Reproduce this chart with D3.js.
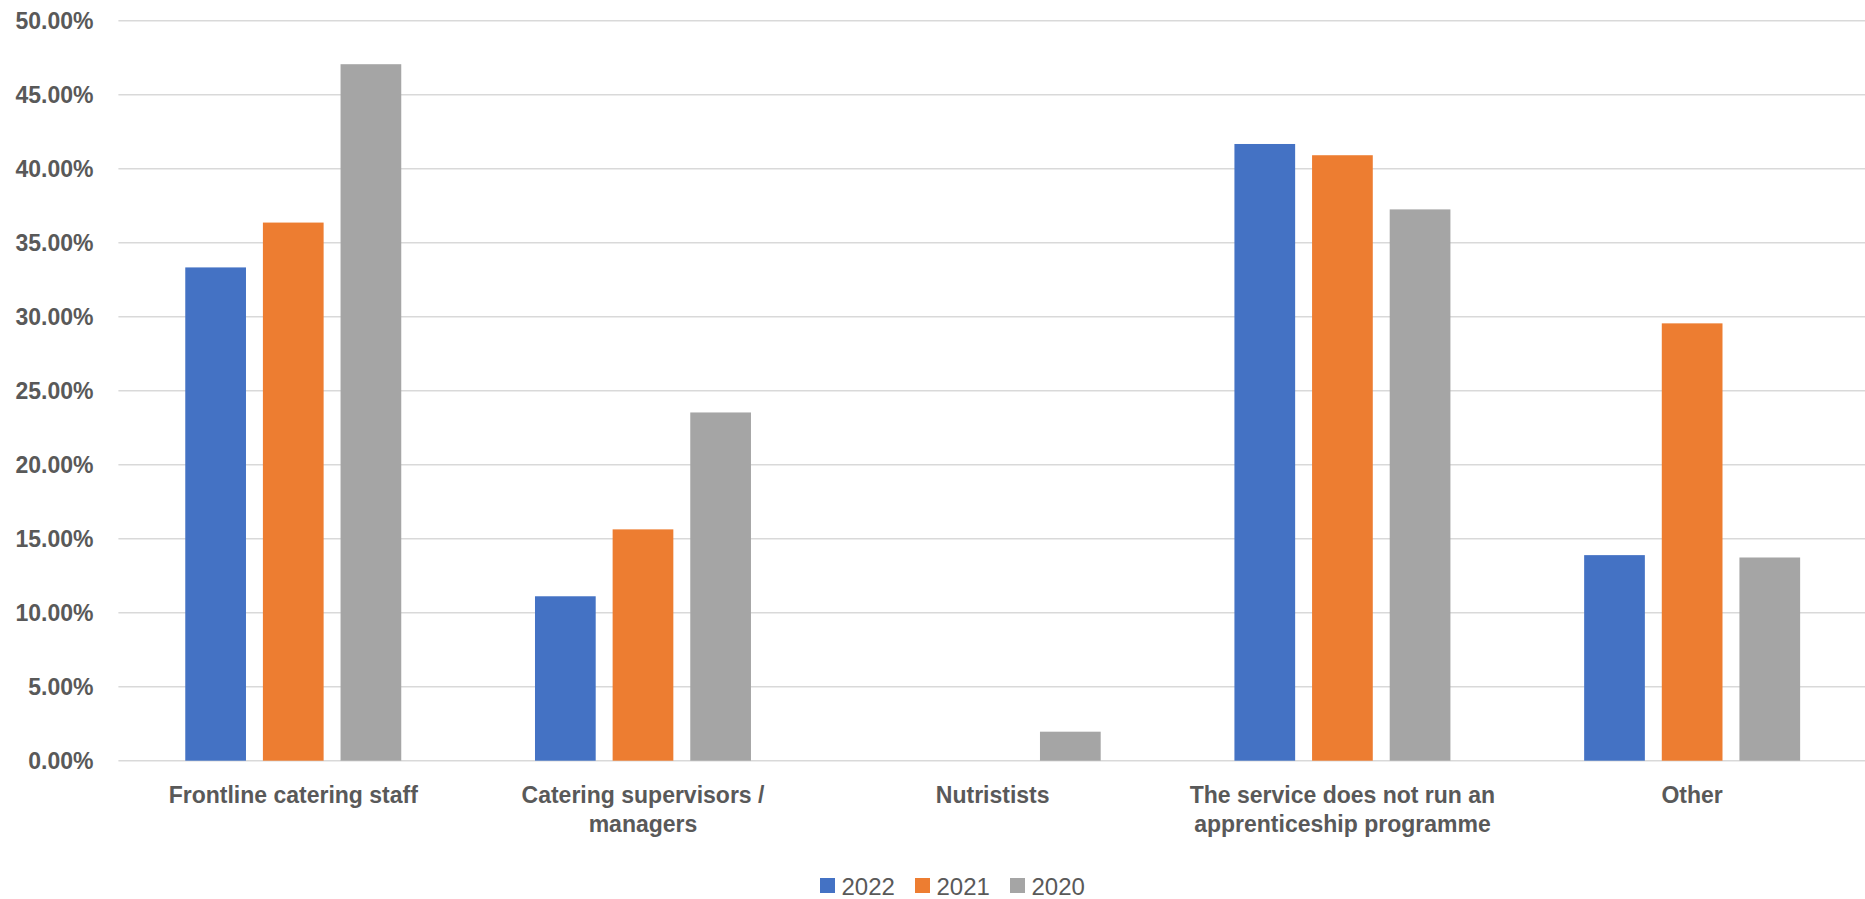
<!DOCTYPE html>
<html>
<head>
<meta charset="utf-8">
<script src="https://cdn.jsdelivr.net/npm/d3@7"></script>
<style>
  html, body { margin: 0; padding: 0; background: #fff; }
  svg { display: block; }
</style>
</head>
<body>
<svg id="chart" width="1865" height="899"></svg>
<script>
const categories = [
  "Frontline catering staff",
  "Catering supervisors / managers",
  "Nutristists",
  "The service does not run an apprenticeship programme",
  "Other"
];
const seriesNames = ["2022", "2021", "2020"];
const values2022 = [0.3333, 0.1111, 0, 0.4167, 0.1389];
const values2021 = [0.3636, 0.1563, 0, 0.4091, 0.2955];
const values2020 = [0.4706, 0.2353, 0.0196, 0.3725, 0.1373];
const seriesColors = ["#4472C4", "#ED7D31", "#A5A5A5"];
const yTicks = [0, 0.05, 0.10, 0.15, 0.20, 0.25, 0.30, 0.35, 0.40, 0.45, 0.50];

const seriesValues = [values2022, values2021, values2020];
const data = categories.map((c, i) => ({
  category: c,
  vals: seriesNames.map((s, j) => ({ key: s, value: seriesValues[j][i], color: seriesColors[j] }))
}));

const svg = d3.select("#chart");
const textColor = "#595959";
const font = "'Liberation Sans', Arial, sans-serif";

const plotLeft = 118.4, plotRight = 1867, plotTop = 20.7, plotBottom = 760.7;

const x0 = d3.scaleBand().domain(categories).range([plotLeft, plotRight]).paddingInner(0.3824).paddingOuter(0.1912);
const x1 = d3.scaleBand().domain(seriesNames).range([0, x0.bandwidth()]).paddingInner(0.218);
const y = d3.scaleLinear().domain([0, 0.5]).range([plotBottom, plotTop]);

// gridlines
const grid = svg.append("g");
grid.selectAll("line").data(yTicks).enter().append("line")
  .attr("x1", plotLeft).attr("x2", plotRight)
  .attr("y1", d => y(d)).attr("y2", d => y(d))
  .attr("stroke", "#d9d9d9").attr("stroke-width", 1.5);

// y axis labels
const yAxis = d3.axisLeft(y).tickValues(yTicks).tickFormat(d3.format(".2%")).tickSize(0).tickPadding(0);
const ya = svg.append("g").attr("transform", `translate(93.5,0)`).call(yAxis);
ya.select(".domain").remove();
ya.selectAll("text")
  .attr("fill", textColor)
  .style("font-family", font)
  .style("font-size", "23px")
  .style("font-weight", "bold")
  .attr("dy", "0.35em");

// bars
const groups = svg.append("g").selectAll("g").data(data).enter().append("g")
  .attr("transform", d => `translate(${x0(d.category)},0)`);
groups.selectAll("rect").data(d => d.vals).enter().append("rect")
  .attr("x", d => x1(d.key))
  .attr("width", x1.bandwidth())
  .attr("y", d => y(d.value))
  .attr("height", d => y(0) - y(d.value))
  .attr("fill", d => d.color);

// x axis labels with wrapping
const xAxis = d3.axisBottom(x0).tickSize(0).tickPadding(0);
const xa = svg.append("g").attr("transform", `translate(0,${plotBottom})`).call(xAxis);
xa.select(".domain").remove();
xa.selectAll("text")
  .attr("fill", textColor)
  .style("font-family", font)
  .style("font-size", "23px")
  .style("font-weight", "bold")
  .attr("y", 42)
  .attr("dy", 0)
  .each(function(d) {
    const t = d3.select(this);
    const words = d.split(/\s+/);
    t.text(null);
    let line = [];
    let lineNo = 0;
    let tspan = t.append("tspan").attr("x", 0).attr("y", 42);
    for (const w of words) {
      line.push(w);
      tspan.text(line.join(" "));
      if (tspan.node().getComputedTextLength() > 322 && line.length > 1) {
        line.pop();
        tspan.text(line.join(" "));
        line = [w];
        lineNo++;
        tspan = t.append("tspan").attr("x", 0).attr("y", 42 + lineNo * 29.5).text(w);
      }
    }
  });

// legend
const legend = svg.append("g");
const legendX = [820, 915, 1010];
seriesNames.forEach((s, i) => {
  legend.append("rect")
    .attr("x", legendX[i]).attr("y", 878)
    .attr("width", 15).attr("height", 15)
    .attr("fill", seriesColors[i]);
  legend.append("text")
    .attr("x", legendX[i] + 21.5).attr("y", 894.5)
    .attr("fill", textColor)
    .style("font-family", font)
    .style("font-size", "24px")
    .text(s);
});
</script>
</body>
</html>
